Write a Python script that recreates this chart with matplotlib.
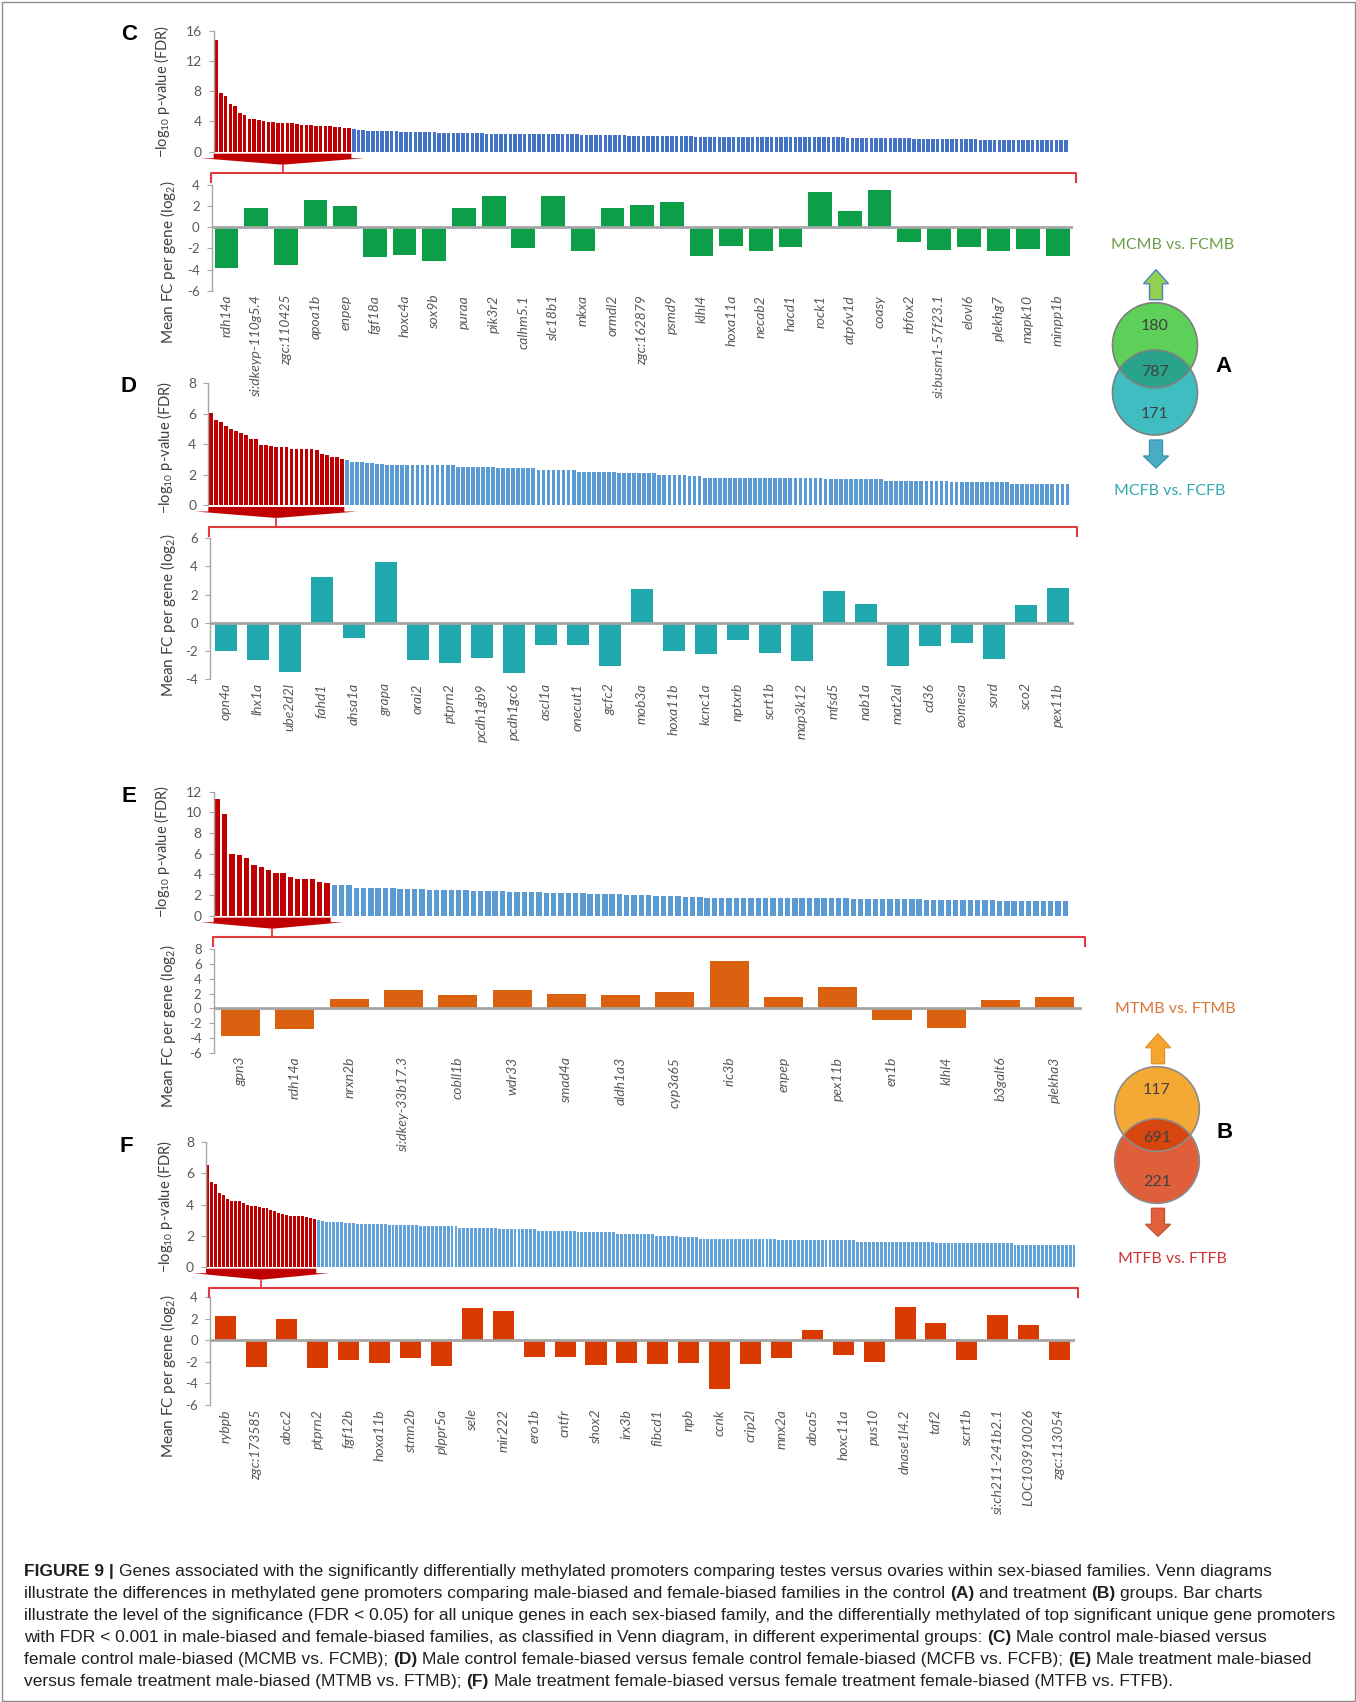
import numpy as np
import matplotlib
matplotlib.use("Agg")
import matplotlib.pyplot as plt
from matplotlib.patches import Circle, Polygon, Rectangle

W, H = 1356, 1702

# ---- C: MCMB vs. FCMB ----
c_fdr_top = [14.8, 7.8, 7.3, 6.3, 6.1, 5.1, 4.8, 4.3, 4.3, 4.2, 4.1, 3.9, 3.9, 3.8, 3.8,
             3.8, 3.8, 3.7, 3.5, 3.5, 3.5, 3.4, 3.4, 3.4, 3.4, 3.3, 3.3, 3.2, 3.2]
c_fdr_rest = ([2.95, 2.9, 2.85, 2.8, 2.75] + [2.7] * 5 + [2.6] * 8 + [2.5] * 10 + [2.4] * 10
              + [2.3] * 10 + [2.2] * 10 + [2.1] * 14 + [2.0] * 16 + [1.9] * 16 + [1.8] * 14
              + [1.7] * 14 + [1.6] * 10 + [1.5] * 9)
c_genes = ["rdh14a", "si:dkeyp-110g5.4", "zgc:110425", "apoa1b", "enpep", "fgf18a", "hoxc4a",
           "sox9b", "puraa", "pik3r2", "calhm5.1", "slc18b1", "mkxa", "ormdl2", "zgc:162879",
           "psmd9", "klhl4", "hoxa11a", "necab2", "hacd1", "rock1", "atp6v1d", "coasy", "rbfox2",
           "si:busm1-57f23.1", "elovl6", "plekhg7", "mapk10", "minpp1b"]
c_fc = [-3.88, 1.8, -3.56, 2.59, 2.05, -2.78, -2.62, -3.19, 1.8, 2.93, -1.99, 2.93, -2.2, 1.83,
        2.15, 2.43, -2.74, -1.73, -2.2, -1.83, 3.34, 1.58, 3.53, -1.36, -2.11, -1.86, -2.2,
        -2.02, -2.74]

# ---- D: MCFB vs. FCFB ----
d_fdr_top = [6.07, 5.59, 5.46, 5.2, 5.02, 4.89, 4.76, 4.6, 4.34, 4.34, 3.97, 3.97, 3.9, 3.8,
             3.8, 3.8, 3.7, 3.7, 3.7, 3.7, 3.7, 3.62, 3.33, 3.29, 3.16, 3.14, 3.05]
d_fdr_rest = ([2.95, 2.85, 2.8, 2.8, 2.78, 2.75, 2.72, 2.7] + [2.65] * 6 + [2.6] * 8 + [2.5] * 8
              + [2.4] * 8 + [2.3] * 8 + [2.2] * 8 + [2.1] * 8 + [2.0] * 6 + [1.9] * 3
              + [1.8] * 12 + [1.75] * 12 + [1.7] * 12 + [1.6] * 13 + [1.5] * 12 + [1.4] * 12)
d_genes = ["opn4a", "lhx1a", "ube2d2l", "fahd1", "ahsa1a", "grapa", "orai2", "ptprn2",
           "pcdh1gb9", "pcdh1gc6", "ascl1a", "onecut1", "gcfc2", "mob3a", "hoxa11b", "kcnc1a",
           "nptxrb", "scrt1b", "map3k12", "mfsd5", "nab1a", "mat2al", "cd36", "eomesa", "sord",
           "sco2", "pex11b"]
d_fc = [-2.01, -2.68, -3.51, 3.25, -1.09, 4.31, -2.68, -2.89, -2.54, -3.6, -1.56, -1.56, -3.06,
        2.42, -2.01, -2.2, -1.26, -2.13, -2.75, 2.23, 1.3, -3.06, -1.66, -1.45, -2.61, 1.28, 2.46]

# ---- E: MTMB vs. FTMB ----
e_fdr_top = [11.29, 9.8, 5.97, 5.87, 5.55, 4.9, 4.71, 4.39, 4.13, 4.13, 3.71, 3.55, 3.55, 3.55,
             3.26, 3.16]
e_fdr_rest = ([2.95] * 3 + [2.65] * 6 + [2.6] * 4 + [2.5] * 6 + [2.4] * 5 + [2.3] * 5 + [2.2] * 6
              + [2.1] * 5 + [2.0] * 4 + [1.9] * 4 + [1.8] * 3 + [1.75] * 10 + [1.7] * 10
              + [1.6] * 10 + [1.5] * 10 + [1.4] * 10)
e_genes = ["gpn3", "rdh14a", "nrxn2b", "si:dkey-33b17.3", "cobll1b", "wdr33", "smad4a",
           "aldh1a3", "cyp3a65", "ric3b", "enpep", "pex11b", "en1b", "klhl4", "b3galt6", "plekha3"]
e_fc = [-3.79, -2.85, 1.26, 2.48, 1.85, 2.53, 1.99, 1.76, 2.26, 6.37, 1.54, 2.89, -1.58, -2.71,
        1.08, 1.54]

# ---- F: MTFB vs. FTFB ----
f_fdr_top = [6.54, 5.43, 5.3, 4.72, 4.61, 4.36, 4.25, 4.25, 4.25, 4.08, 3.97, 3.93, 3.93, 3.84,
             3.8, 3.76, 3.67, 3.58, 3.43, 3.37, 3.33, 3.28, 3.28, 3.28, 3.28, 3.22, 3.11, 3.07]
f_fdr_rest = ([3.0, 2.95, 2.9, 2.85, 2.85, 2.85, 2.85, 2.8, 2.8, 2.8] + [2.75] * 8 + [2.7] * 8
              + [2.6] * 10 + [2.5] * 10 + [2.4] * 10 + [2.3] * 10 + [2.2] * 10 + [2.1] * 10
              + [2.0] * 6 + [1.9] * 5 + [1.8] * 20 + [1.7] * 20 + [1.6] * 20 + [1.5] * 20
              + [1.4] * 16)
f_genes = ["rybpb", "zgc:173585", "abcc2", "ptprn2", "fgf12b", "hoxa11b", "stmn2b", "plppr5a",
           "sele", "mir222", "ero1b", "cntfr", "shox2", "irx3b", "fibcd1", "npb", "ccnk",
           "crip2l", "mnx2a", "abca5", "hoxc11a", "pus10", "dnase1l4.2", "taf2", "scrt1b",
           "si:ch211-241b2.1", "LOC103910026", "zgc:113054"]
f_fc = [2.23, -2.48, 1.98, -2.57, -1.8, -2.1, -1.64, -2.38, 3.0, 2.69, -1.52, -1.55, -2.26,
        -2.1, -2.23, -2.1, -4.52, -2.17, -1.64, 0.96, -1.33, -2.04, 3.13, 1.61, -1.8, 2.38,
        1.46, -1.8]

# Venn counts: (only first, shared, only second)
venn_control = [180, 787, 171]
venn_treatment = [117, 691, 221]

plt.rcParams["font.family"] = ["Lato", "DejaVu Sans"]
plt.rcParams["axes.unicode_minus"] = False
plt.rcParams["mathtext.fontset"] = "custom"
plt.rcParams["mathtext.rm"] = "Lato"
plt.rcParams["mathtext.it"] = "Lato:italic"
plt.rcParams["mathtext.bf"] = "Lato:bold"

GRAY = "#A6A6A6"
TICK = "#595959"
TITLE = "#404040"
DARK_RED = "#C00000"
BRACKET = "#E0393E"

fig = plt.figure(figsize=(W / 100, H / 100), dpi=100)


def px_axes(x0, y0, x1, y1):
    # box in pixels, measured from the top-left corner of the figure
    ax = fig.add_axes([x0 / W, 1 - y1 / H, (x1 - x0) / W, (y1 - y0) / H])
    ax.patch.set_visible(False)
    return ax


def style(ax, size):
    for s in ["top", "right", "bottom"]:
        ax.spines[s].set_visible(False)
    ax.spines["left"].set_color(GRAY)
    ax.spines["left"].set_linewidth(1)
    ax.tick_params(axis="y", colors=TICK, color=GRAY, length=3.6, width=0.8,
                   labelsize=size, pad=5)
    ax.tick_params(axis="x", length=0)


def fdr_chart(box, top, rest, ymax, step, blue):
    ax = px_axes(*box)
    vals = top + rest
    x = np.arange(len(vals))
    colors = [DARK_RED] * len(top) + [blue] * len(rest)
    ax.bar(x, vals, width=0.74, color=colors, linewidth=0)
    ax.set_xlim(-0.5, len(vals) - 0.5)
    ax.set_ylim(0, ymax)
    ax.set_yticks(np.arange(0, ymax + 1, step))
    ax.set_xticks([])
    style(ax, 10)
    return ax


def fc_chart(box, genes, fc, lo, hi, color, width):
    ax = px_axes(*box)
    x = np.arange(len(genes))
    ax.bar(x, fc, width=width, color=color, linewidth=0, zorder=2)
    ax.axhline(0, color=GRAY, lw=2, zorder=3)
    ax.set_xlim(-0.5, len(genes) - 0.5)
    ax.set_ylim(lo, hi)
    ax.set_yticks(np.arange(lo, hi + 1, 2))
    ax.set_xticks(x)
    ax.set_xticklabels(genes, rotation=90, style="italic", fontsize=10, color=TICK)
    style(ax, 9.5)
    ax.tick_params(axis="x", pad=3)
    return ax


panels = [
    dict(letter="C", lpos=(128.7, 35), fdr_box=(213.7, 30.7, 1068.3, 151.7), top=c_fdr_top,
         rest=c_fdr_rest, ymax=16, step=4, blue="#4472C4",
         fc_box=(211.6, 185, 1072.6, 290.7), genes=c_genes, fc=c_fc, lim=(-6, 4),
         color="#0C9F47", width=0.8, t1=(162, 91), t2=(168, 262)),
    dict(letter="D", lpos=(128.7, 386.7), fdr_box=(208.3, 383.3, 1070, 505), top=d_fdr_top,
         rest=d_fdr_rest, ymax=8, step=2, blue="#5B9BD5",
         fc_box=(209.7, 538.3, 1074, 679), genes=d_genes, fc=d_fc, lim=(-4, 6),
         color="#1FA9AE", width=0.7, t1=(165, 447), t2=(168, 615)),
    dict(letter="E", lpos=(128.7, 796.7), fdr_box=(213.7, 791.7, 1069, 915.7), top=e_fdr_top,
         rest=e_fdr_rest, ymax=12, step=2, blue="#5B9BD5",
         fc_box=(213.5, 949.3, 1082, 1052.7), genes=e_genes, fc=e_fc, lim=(-6, 8),
         color="#DA6110", width=0.72, t1=(162, 851), t2=(168, 1026)),
    dict(letter="F", lpos=(126.8, 1146.7), fdr_box=(206, 1142.3, 1076, 1266.7), top=f_fdr_top,
         rest=f_fdr_rest, ymax=8, step=2, blue="#63A3DC",
         fc_box=(209.7, 1297.3, 1075, 1405), genes=f_genes, fc=f_fc, lim=(-6, 4),
         color="#D93A00", width=0.68, t1=(165, 1206), t2=(168, 1376)),
]

built = []
for p in panels:
    a1 = fdr_chart(p["fdr_box"], p["top"], p["rest"], p["ymax"], p["step"], p["blue"])
    a2 = fc_chart(p["fc_box"], p["genes"], p["fc"], p["lim"][0], p["lim"][1], p["color"],
                  p["width"])
    built.append((p, a1, a2))

# pixel overlay for wedges, brackets, Venn diagrams and the frame (y grows downwards)
canvas = fig.add_axes([0, 0, 1, 1], zorder=5)
canvas.set_xlim(0, W)
canvas.set_ylim(H, 0)
canvas.axis("off")

for p, a1, a2 in built:
    n_red = len(p["top"])
    xl, xr = a1.transData.transform([(-0.5, 0), (n_red - 0.5, 0)])[:, 0]
    base = H - a1.transData.transform((0, 0))[1]
    xc = (xl + xr) / 2
    canvas.add_patch(Polygon([(xl, base + 2), (xr, base + 2), (xr, base + 6.5),
                              (xr + 13, base + 6.5), (xc, base + 13), (xl - 13, base + 6.5),
                              (xl, base + 6.5)], closed=True, fc=DARK_RED, ec="none"))
    yb = base + 21.5
    pos = a2.get_position()
    bl, br = pos.x0 * W - 1, pos.x1 * W + 3
    canvas.plot([bl, bl, br, br], [yb + 9, yb, yb, yb + 9], color=BRACKET, lw=1.5)
    canvas.plot([xc, xc], [base + 13, yb], color=BRACKET, lw=1.3)

    canvas.text(*p["lpos"], p["letter"], fontsize=16, fontweight="bold",
                family="Liberation Sans", ha="center", va="center", color="black")
    canvas.text(*p["t1"], "\u2212log$_{10}$ p-value (FDR)", rotation=90, fontsize=10.5,
                ha="center", va="center", color=TITLE)
    canvas.text(*p["t2"], "Mean FC per gene (log$_2$)", rotation=90, fontsize=11,
                ha="center", va="center", color=TITLE)


def block_arrow(cx, y_tail, y_neck, y_tip, fc, ec, head=12.5, shaft=6.5):
    pts = [(cx - shaft, y_tail), (cx - shaft, y_neck), (cx - head, y_neck), (cx, y_tip),
           (cx + head, y_neck), (cx + shaft, y_neck), (cx + shaft, y_tail)]
    canvas.add_patch(Polygon(pts, closed=True, fc=fc, ec=ec, lw=1))


def venn(cx, cy_up, cy_low, r, counts, fills, lens_fill, edge, top_label, top_color,
         bottom_label, bottom_color, letter, arrow_up, arrow_down):
    up = Circle((cx, cy_up), r, fc=fills[0], ec="none")
    low = Circle((cx, cy_low), r, fc=fills[1], ec="none")
    lens = Circle((cx, cy_low), r, fc=lens_fill, ec="none")
    for c in (up, low, lens):
        canvas.add_patch(c)
    lens.set_clip_path(up)
    for cy in (cy_up, cy_low):
        canvas.add_patch(Circle((cx, cy), r, fc="none", ec=edge, lw=1.2))
    mid = (cy_up + cy_low) / 2
    for val, y in zip(counts, (cy_up - 19, mid + 3, cy_low + 21)):
        canvas.text(cx, y, str(val), fontsize=11.5, color=TITLE, ha="center", va="center")
    block_arrow(cx + 1, cy_up - r - 3, cy_up - r - 19, cy_up - r - 33, *arrow_up)
    block_arrow(cx + 1, cy_low + r + 5, cy_low + r + 21, cy_low + r + 33, *arrow_down)
    canvas.text(cx + 18, cy_up - r - 58, top_label, fontsize=11.5, color=top_color,
                ha="center", va="center")
    canvas.text(cx + 15, cy_low + r + 56, bottom_label, fontsize=11.5, color=bottom_color,
                ha="center", va="center")
    canvas.text(cx + 68, mid - 2, letter, fontsize=16, fontweight="bold",
                family="Liberation Sans", ha="center", va="center", color="black")


venn(1155, 345.2, 392.5, 42.5, venn_control, ("#5DD05A", "#3FBDC0"), "#2AA38C", "#7F7F7F",
     "MCMB vs. FCMB", "#6A9F48", "MCFB vs. FCFB", "#30A9AF", "A",
     ("#92D050", "#4F81BD"), ("#4BACC6", "#3C96AE"))
venn(1157, 1109, 1161, 42.3, venn_treatment, ("#F5A935", "#DE5F3A"), "#D6470F", "#8C8C8C",
     "MTMB vs. FTMB", "#D8773A", "MTFB vs. FTFB", "#D0302F", "B",
     ("#F7A531", "#E0952E"), ("#E2603C", "#C65533"))

canvas.add_patch(Rectangle((1.5, 1.5), W - 3, H - 3, fc="none", ec="#8C8C8C", lw=1))

# caption, laid out segment by segment so the bold panel references sit inline
caption = [
    [("FIGURE 9 |", True), (" Genes associated with the significantly differentially methylated "
      "promoters comparing testes versus ovaries within sex-biased families. Venn diagrams", False)],
    [("illustrate the differences in methylated gene promoters comparing male-biased and "
      "female-biased families in the control ", False), ("(A)", True), (" and treatment ", False),
     ("(B)", True), (" groups. Bar charts", False)],
    [("illustrate the level of the significance (FDR < 0.05) for all unique genes in each "
      "sex-biased family, and the differentially methylated of top significant unique gene "
      "promoters", False)],
    [("with FDR < 0.001 in male-biased and female-biased families, as classified in Venn "
      "diagram, in different experimental groups: ", False), ("(C)", True),
     (" Male control male-biased versus", False)],
    [("female control male-biased (MCMB vs. FCMB); ", False), ("(D)", True),
     (" Male control female-biased versus female control female-biased (MCFB vs. FCFB); ", False),
     ("(E)", True), (" Male treatment male-biased", False)],
    [("versus female treatment male-biased (MTMB vs. FTMB); ", False), ("(F)", True),
     (" Male treatment female-biased versus female treatment female-biased (MTFB vs. FTFB).",
      False)],
]
baselines = [1576, 1598, 1620, 1642, 1664, 1686]

renderer = fig.canvas.get_renderer()
probe = canvas.text(0, 0, caption[2][0][0], fontsize=10, family="Liberation Sans")
cap_size = 10 * 1318 / probe.get_window_extent(renderer).width
probe.remove()


def text_width(s, bold):
    t = canvas.text(0, 0, s, fontsize=cap_size, family="Liberation Sans",
                    fontweight="bold" if bold else "normal")
    w = t.get_window_extent(renderer).width
    t.remove()
    return w


space = text_width("a a", False) - text_width("aa", False)
for parts, yb in zip(caption, baselines):
    x = 24
    for s, bold in parts:
        x += space * (len(s) - len(s.lstrip(" ")))
        core = s.strip(" ")
        canvas.text(x, yb, core, fontsize=cap_size, family="Liberation Sans",
                    fontweight="bold" if bold else "normal", color="#231F20",
                    ha="left", va="baseline")
        x += text_width(core, bold)
        x += space * (len(s) - len(s.rstrip(" ")))

fig.savefig("out.png", dpi=100)
